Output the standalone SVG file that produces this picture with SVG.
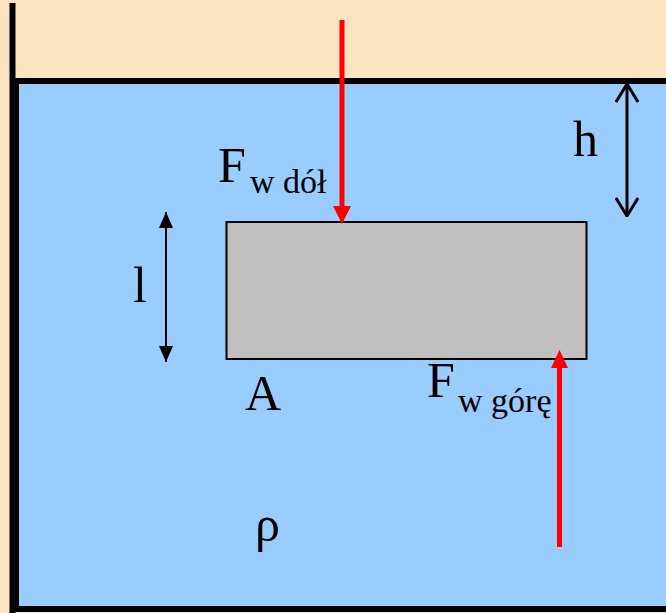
<svg xmlns="http://www.w3.org/2000/svg" width="666" height="613" viewBox="0 0 666 613">
<style>
.t{font-family:"Liberation Serif","Times New Roman",serif;fill:#000}
.big{font-size:50px}
.sub{font-size:34px}
.force{stroke:#FF0000;stroke-width:5;fill:none}
.head{fill:#FF0000}
.dim{stroke:#000;fill:none}
</style>
<defs>
<marker id="tri" viewBox="0 0 16 14" refX="16" refY="7" markerWidth="16" markerHeight="14" markerUnits="userSpaceOnUse" orient="auto-start-reverse">
<path d="M0,0 L16,7 L0,14 Z" fill="#000"/>
</marker>
<marker id="vee" viewBox="0 0 20 24" refX="19" refY="12" markerWidth="20" markerHeight="24" markerUnits="userSpaceOnUse" orient="auto-start-reverse">
<path d="M1,1 L19,12 L1,23" fill="none" stroke="#000" stroke-width="3"/>
</marker>
</defs>
<rect x="0" y="0" width="666" height="613" fill="#FCE4C0"/>
<g id="tank">
<rect x="16" y="81" width="660" height="528" fill="#99CCFF" stroke="#000" stroke-width="6"/>
<line x1="12.5" y1="3" x2="12.5" y2="613" stroke="#000" stroke-width="6"/>
</g>
<g id="block">
<rect x="226.5" y="222" width="360" height="137" fill="#C0C0C0" stroke="#000" stroke-width="2"/>
</g>
<g id="connectors">
<line class="force" x1="342" y1="20" x2="342" y2="208"/>
<polygon class="head" points="333,206 351,206 342,224"/>
<line class="force" x1="559.5" y1="366" x2="559.5" y2="547"/>
<polygon class="head" points="551,368 568,368 559.5,350"/>
<line class="dim" stroke-width="2" x1="166" y1="212" x2="166" y2="362" marker-start="url(#tri)" marker-end="url(#tri)"/>
<line class="dim" stroke-width="3" x1="627" y1="84" x2="627" y2="216" marker-start="url(#vee)" marker-end="url(#vee)"/>
</g>
<g id="labels">
<text class="t" x="218" y="182"><tspan class="big">F</tspan><tspan class="sub" x="250" y="193">w dół</tspan></text>
<text class="t" x="427" y="397"><tspan class="big">F</tspan><tspan class="sub" x="458" y="412">w górę</tspan></text>
<text class="t big" x="573" y="156">h</text>
<text class="t big" x="133" y="302">l</text>
<text class="t big" x="245" y="410">A</text>
<text class="t big" x="255" y="541">ρ</text>
</g>
</svg>
